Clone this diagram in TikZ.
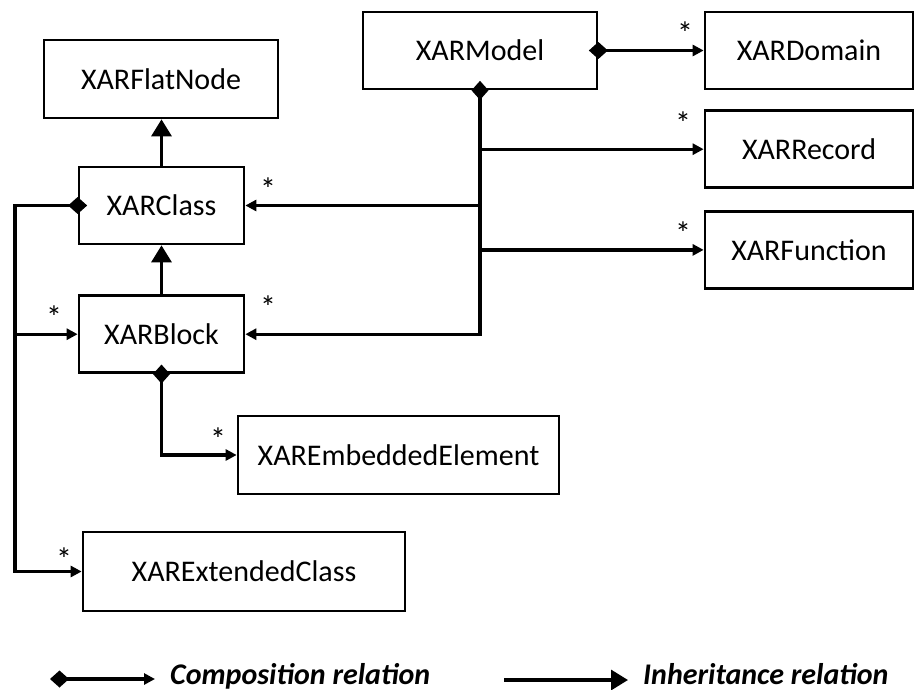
\documentclass[tikz,border=0pt]{standalone}
\usepackage{fontspec}
\setmainfont{Carlito}
\usetikzlibrary{positioning,arrows.meta}

\begin{document}
\begin{tikzpicture}[
  x=1pt, y=-1pt,
  node distance=19pt and 20pt,
  font=\fontsize{30}{36}\selectfont,
  box/.style={draw, line width=2.7pt, minimum height=77pt, inner sep=0pt},
  flow/.style={-{Triangle[length=11pt,width=11pt]}, line width=3.2pt},
  comp/.style={{Diamond[length=19pt,width=17pt]}-{Triangle[length=11pt,width=11pt]}, line width=3.2pt},
  inherit/.style={-{Triangle[length=17pt,width=20pt]}, line width=3.2pt},
  mult/.style={font=\fontsize{32}{36}\selectfont, inner sep=0pt},
  legend/.style={font=\fontsize{30}{36}\selectfont\bfseries\itshape, anchor=base west, inner sep=0pt}
]
\useasboundingbox (0,0) rectangle (915,690);

\node[box, minimum width=234pt, minimum height=78pt] (flat) at (161,79) {XARFlatNode};
\node[box, minimum width=234pt] (model) at (480,50.5) {XARModel};
\node[box, minimum width=208pt] (domain) at (809,50.5) {XARDomain};
\node[box, minimum width=208pt, below=of domain] (record) {XARRecord};
\node[box, minimum width=208pt, below=21pt of record] (function) {XARFunction};
\node[box, minimum width=165pt] (class) at (161.5,205.5) {XARClass};
\node[box, minimum width=165pt, below=49pt of class] (block) {XARBlock};
\node[box, minimum width=321pt, minimum height=78pt] (embedded) at (398.5,455) {XAREmbeddedElement};
\node[box, minimum width=322pt, minimum height=79pt] (extended) at (244,571.5) {XARExtendedClass};
\coordinate (rail) at (15,0);

% inheritance
\draw[inherit] (class.north) -- (class.north |- flat.south);
\draw[inherit] (block.north) -- (class.south);

% composition from the model
\draw[comp] ([xshift=-9.5pt]model.east) -- (domain.west);
\draw[comp] ([yshift=9.5pt]model.south) |- (block.east);
\draw[flow] (model.south |- record.west) -- (record.west);
\draw[flow] (model.south |- class.east) -- (class.east);
\draw[flow] (model.south |- function.west) -- (function.west);

% composition from class and block
\draw[comp] ([xshift=9.5pt]class.west) -- (rail |- class.west) |- (extended.west);
\draw[flow] (rail |- block.west) -- (block.west);
\draw[comp] ([yshift=9.5pt]block.south) |- (embedded.west);

% multiplicities
\node[mult] (mdomain) at (685,33) {*};
\node[mult] (mrecord) at (683,123) {*};
\node[mult] (mfunction) at (683,233) {*};
\node[mult] (mclass) at (268,189) {*};
\node[mult] (mblock) at (268,307) {*};
\node[mult] (mblockleft) at (54,317) {*};
\node[mult] (membedded) at (218,439) {*};
\node[mult] (mextended) at (64,559) {*};

% legend
\coordinate (compa) at (50,679);
\coordinate (compb) at (155,679);
\draw[comp] (compa) -- (compb);
\node[legend] (comptext) at (170,684) {Composition relation};
\coordinate (inha) at (504,680);
\coordinate (inhb) at (628,680);
\draw[inherit] (inha) -- (inhb);
\node[legend] (inhtext) at (643,684) {Inheritance relation};
\end{tikzpicture}
\end{document}
